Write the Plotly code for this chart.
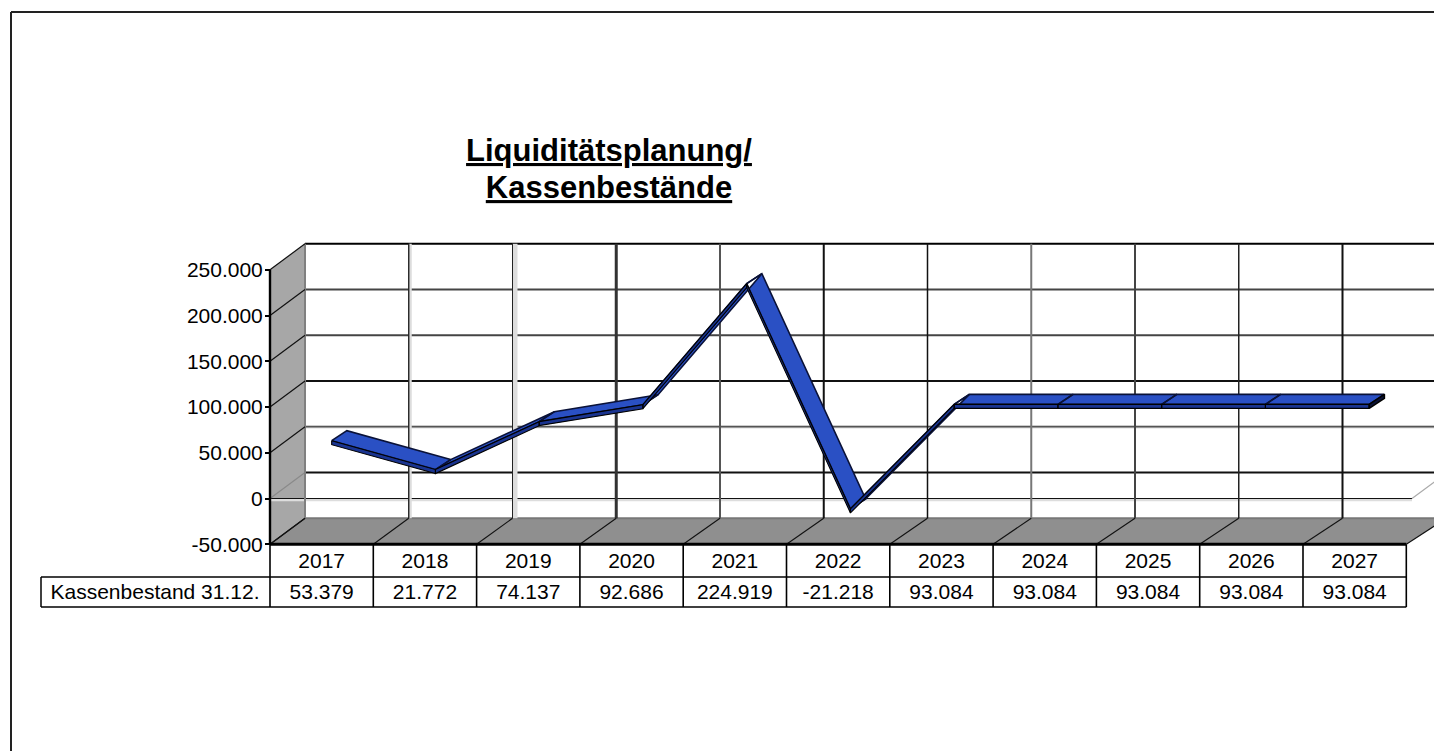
import plotly.graph_objects as go

# ---------- data ----------
YEARS = ["2017", "2018", "2019", "2020", "2021", "2022", "2023", "2024", "2025", "2026", "2027"]
CASH = [53379, 21772, 74137, 92686, 224919, -21218, 93084, 93084, 93084, 93084, 93084]
Y_TICKS = [-50000, 0, 50000, 100000, 150000, 200000, 250000]
ROW_LABEL = "Kassenbestand 31.12."
TITLE_LINES = ["Liquiditätsplanung/", "Kassenbestände"]

# ---------- page <-> axis geometry (pixels of the furniture only) ----------
W, H = 1434, 751
X0, COL = 270.0, 103.3          # front plane: x of first category edge, column width
COL_BACK = 103.75               # back plane column width
Y_ZERO, PX_PER_50K = 498.5, 45.75
DEPTH_X, DEPTH_Y = 35.0, 26.0   # oblique depth offset in pixels
FONT = "Liberation Sans, Arial, sans-serif"


def X(px):
    return (px - X0) / COL


def Y(py):
    return (Y_ZERO - py) * 50000 / PX_PER_50K


def de(v):
    return f"{v:,d}".replace(",", ".")


DX = DEPTH_X / COL
DY = DEPTH_Y * 50000 / PX_PER_50K
BACK_STEP = COL_BACK / COL
Y_MIN, Y_MAX = Y_TICKS[0], Y_TICKS[-1]

shapes = []


def line(x0, y0, x1, y1, color="black", width=1.0, dash=None):
    shapes.append(dict(type="line", xref="x", yref="y", x0=x0, y0=y0, x1=x1, y1=y1, layer="below",
                       line=dict(color=color, width=width, dash=dash or "solid")))


def poly(points, fill):
    d = "M " + " L ".join(f"{a} {b}" for a, b in points) + " Z"
    shapes.append(dict(type="path", xref="x", yref="y", path=d, fillcolor=fill, layer="below",
                       line=dict(width=0)))


n = len(YEARS)
# left wall and floor
poly([(0, Y_MIN), (DX, Y_MIN + DY), (DX, Y_MAX + DY), (0, Y_MAX)], "#a7a7a7")
poly([(0, Y_MIN), (n, Y_MIN), (n + DX * 1.0 + (BACK_STEP - 1) * n, Y_MIN + DY), (DX, Y_MIN + DY)], "#8f8f8f")

# back-wall horizontal gridlines: value, colour, width
H_STYLE = [(250000, "#000000", 2), (200000, "#444444", 2), (150000, "#444444", 2),
           (100000, "#111111", 2), (50000, "#bbbbbb", 3), (50000, "#333333", 1),
           (0, "#111111", 2), (-50000, "#777777", 2)]
for v, c, w in H_STYLE:
    line(DX, v + DY, X(W + 10), v + DY, c, w)

# zero plane
line(0, -1600, X(1412), -1600, "#dddddd", 2.5)
line(0, 0, X(1412), 0, "#111111", 1)
line(0, 0, DX, DY, "#8a8a8a", 1.2)
line(X(1412), 0, X(1412) + DX, DY, "#aaaaaa", 1.2)

# back-wall vertical gridlines: index, pixel shift, colour, width
V_STYLE = [(0, 0, "#808080", 2), (1, 1.5, "#dddddd", 3), (1, 0, "#222222", 1.4), (2, 2.5, "#dddddd", 5),
           (2, 0, "#222222", 1), (3, 0, "#333333", 3), (4, 0, "#555555", 2), (5, 0, "#111111", 2),
           (6, 0, "#111111", 1.5), (7, 0, "#777777", 2), (8, 0, "#444444", 2), (9, 0, "#222222", 1.5),
           (10, 0, "#111111", 2)]
for k, s, c, w in V_STYLE:
    xb = DX + k * BACK_STEP + s / COL
    line(xb, Y_MIN + DY, xb, Y_MAX + DY, c, w)

# left-wall diagonals
for v in Y_TICKS:
    if v != 0:
        line(0, v, DX, v + DY, "#111111", 1.2)

# floor diagonals
for k in range(n + 1):
    line(k, Y_MIN, DX + k * BACK_STEP, Y_MIN + DY, "#111111", 1.1)

# front edge of wall
line(0, Y_MIN, 0, Y_MAX, "#000000", 2.4)

# table
ROW1, ROW2 = 577, 607
line(0, Y_MIN, n, Y_MIN, "#000000", 3)
line(X(41), Y(ROW1), n, Y(ROW1), "#000000", 1.5)
line(X(41), Y(ROW2), n, Y(ROW2), "#000000", 1.5)
line(X(41), Y(ROW1), X(41), Y(ROW2), "#000000", 1.5)
for k in range(n + 1):
    line(k, Y_MIN, k, Y(ROW2), "#000000", 1.6)

# outer frame
line(X(11), Y(12), X(W + 5), Y(12), "#222222", 2)
line(X(11), Y(12), X(11), Y(H + 5), "#222222", 2)

# ---------- ribbon drawn from the series ----------
R_STEP = BACK_STEP
R_FRONT_X, R_BACK_X = 9.8 / COL, 25.0 / COL
R_FRONT_Y, R_BACK_Y = 9 * 50000 / PX_PER_50K, 19 * 50000 / PX_PER_50K
R_HEIGHT = 4 * 50000 / PX_PER_50K


def rp(i, v, front):
    off_x, off_y = (R_FRONT_X, R_FRONT_Y) if front else (R_BACK_X, R_BACK_Y)
    return (i + 0.5) * R_STEP + off_x, v + off_y


top_x, top_y, face_x, face_y = [], [], [], []
for i in range(n - 1):
    a, b = CASH[i], CASH[i + 1]
    corners = [rp(i, a, True), rp(i + 1, b, True), rp(i + 1, b, False), rp(i, a, False), rp(i, a, True)]
    top_x += [c[0] for c in corners] + [None]
    top_y += [c[1] for c in corners] + [None]
    f0, f1 = rp(i, a, True), rp(i + 1, b, True)
    face = [f0, f1, (f1[0], f1[1] - R_HEIGHT), (f0[0], f0[1] - R_HEIGHT), f0]
    face_x += [c[0] for c in face] + [None]
    face_y += [c[1] for c in face] + [None]

# end cap of the last point
c0, c1 = rp(n - 1, CASH[-1], True), rp(n - 1, CASH[-1], False)
cap = [c0, c1, (c1[0], c1[1] - R_HEIGHT), (c0[0], c0[1] - R_HEIGHT), c0]
cap_x = [c[0] for c in cap]
cap_y = [c[1] for c in cap]

fig = go.Figure()
fig.add_trace(go.Scatter(x=top_x, y=top_y, mode="lines", fill="toself", fillcolor="#2a50c4",
                         line=dict(color="#0a1238", width=1.6), hoverinfo="skip", showlegend=False))
fig.add_trace(go.Scatter(x=face_x, y=face_y, mode="lines", fill="toself", fillcolor="#1a3490",
                         line=dict(color="#000000", width=1.1), hoverinfo="skip", showlegend=False))
fig.add_trace(go.Scatter(x=cap_x, y=cap_y, mode="lines", fill="toself", fillcolor="#0a1238",
                         line=dict(color="#000000", width=1.6), hoverinfo="skip", showlegend=False))

# value row and its label
ROW_MID = Y((ROW1 + ROW2) / 2 + 2)
fig.add_trace(go.Scatter(x=[i + 0.5 for i in range(n)], y=[ROW_MID] * n, mode="text",
                         text=[de(v) for v in CASH], textposition="middle center",
                         textfont=dict(family=FONT, size=21, color="black"),
                         hoverinfo="skip", showlegend=False, cliponaxis=False))
fig.add_trace(go.Scatter(x=[X(155)], y=[ROW_MID], mode="text", text=[ROW_LABEL],
                         textposition="middle center",
                         textfont=dict(family=FONT, size=21, color="black"),
                         hoverinfo="skip", showlegend=False, cliponaxis=False))

title_text = "<br>".join(f'<span style="font-size:31px"><b><u>{t}</u></b></span>' for t in TITLE_LINES)

fig.update_layout(
    width=W, height=H, autosize=False,
    margin=dict(l=0, r=0, t=0, b=0, pad=0),
    paper_bgcolor="white", plot_bgcolor="white",
    showlegend=False, hovermode=False,
    shapes=shapes,
    title=dict(text=title_text,
               x=609 / W, xanchor="center", y=1 - 161 / H, yanchor="top",
               font=dict(family=FONT, size=28.5, color="black")),
    xaxis=dict(domain=[0, 1], range=[X(0), X(W)], anchor="free", position=(H - 545) / H,
               tickmode="array", tickvals=[i + 0.5 for i in range(n)], ticktext=YEARS,
               ticks="", ticklabelstandoff=1, showgrid=False, zeroline=False,
               showline=False, tickfont=dict(family=FONT, size=21, color="black")),
    yaxis=dict(domain=[0, 1], range=[Y(H), Y(0)], anchor="free", position=X0 / W,
               tickmode="array", tickvals=Y_TICKS, ticktext=[de(v) for v in Y_TICKS],
               ticks="outside", ticklen=5, tickwidth=1.5, tickcolor="black", ticklabelstandoff=-2,
               showgrid=False, zeroline=False,
               showline=False, tickfont=dict(family=FONT, size=21, color="black")),
)

fig.write_html("out.html", config={"displayModeBar": False},
               post_script="document.body.style.margin='0';document.body.style.overflow='hidden';")
